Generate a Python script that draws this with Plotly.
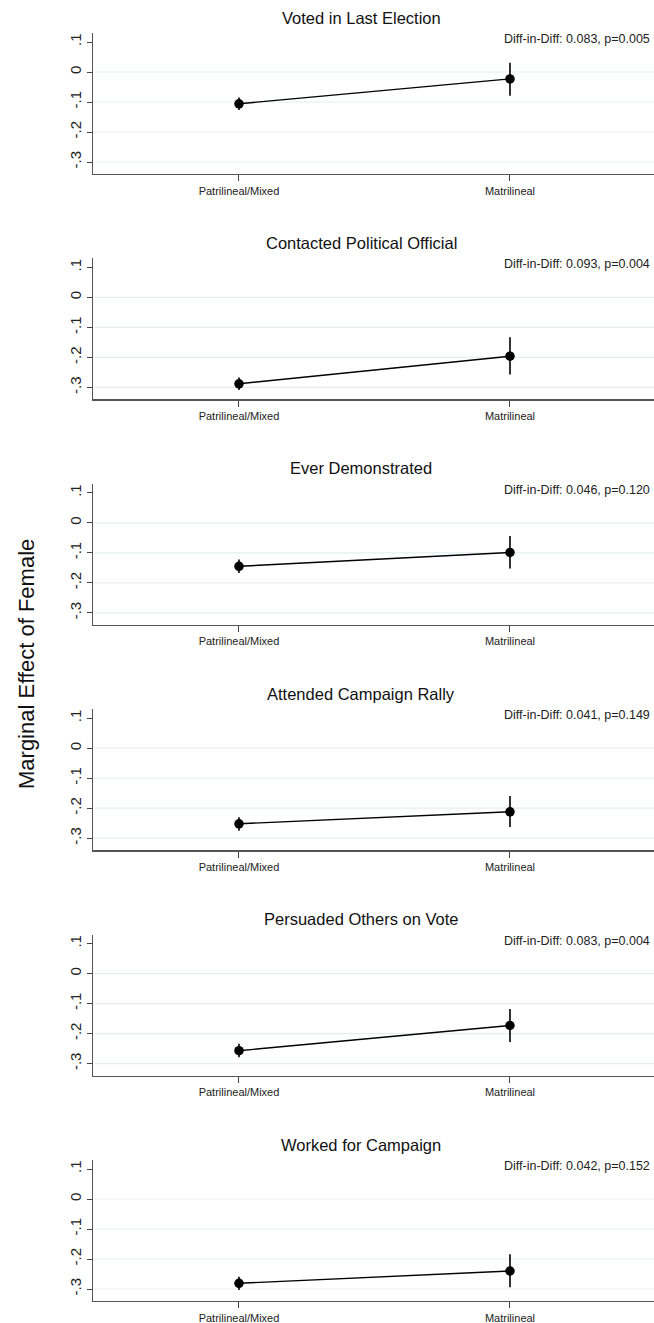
import plotly.graph_objects as go

# ---- data ----
outcomes = ["Voted in Last Election", "Contacted Political Official", "Ever Demonstrated",
            "Attended Campaign Rally", "Persuaded Others on Vote", "Worked for Campaign"]
groups = ["Patrilineal/Mixed", "Matrilineal"]
patri_est = [-0.106, -0.288, -0.145, -0.252, -0.257, -0.281]
patri_lo = [-0.127, -0.309, -0.167, -0.275, -0.279, -0.303]
patri_hi = [-0.085, -0.267, -0.122, -0.230, -0.234, -0.259]
matri_est = [-0.023, -0.196, -0.099, -0.212, -0.173, -0.240]
matri_lo = [-0.079, -0.257, -0.152, -0.263, -0.228, -0.294]
matri_hi = [0.031, -0.133, -0.044, -0.159, -0.118, -0.184]
did_text = ["Diff-in-Diff: 0.083, p=0.005", "Diff-in-Diff: 0.093, p=0.004",
            "Diff-in-Diff: 0.046, p=0.120", "Diff-in-Diff: 0.041, p=0.149",
            "Diff-in-Diff: 0.083, p=0.004", "Diff-in-Diff: 0.042, p=0.152"]
ytick_vals = [0.1, 0.0, -0.1, -0.2, -0.3]
ytick_text = [".1", "0", "-.1", "-.2", "-.3"]
grid_vals = [0.0, -0.1, -0.2, -0.3]

W, H = 654, 1323
FONT = "Liberation Sans, Arial, sans-serif"
step = 225.4
ax_top0, ax_bot0 = 33, 174
x_left = 93

fig = go.Figure()
shapes = []
annotations = []

def py(p):
    return 1 - p / H

for i in range(6):
    n = "" if i == 0 else str(i + 1)
    xa, ya = "x" + n, "y" + n
    top = ax_top0 + step * i
    bot = ax_bot0 + step * i
    est = [patri_est[i], matri_est[i]]
    lo = [patri_lo[i], matri_lo[i]]
    hi = [patri_hi[i], matri_hi[i]]
    fig.add_trace(go.Scatter(
        x=[0, 1], y=est, xaxis=xa, yaxis=ya, mode="lines+markers",
        line=dict(color="black", width=1.4),
        marker=dict(color="black", size=9.5),
        error_y=dict(type="data", symmetric=False,
                     array=[h - e for h, e in zip(hi, est)],
                     arrayminus=[e - l for e, l in zip(est, lo)],
                     color="black", thickness=1.6, width=0),
        showlegend=False, hoverinfo="skip"))
    fig.layout["xaxis" + n] = dict(
        domain=[x_left / W, 1.0], anchor=ya, range=[-0.5387, 1.5314],
        tickvals=[0, 1], ticktext=groups, ticks="outside", ticklen=6,
        tickcolor="#444", showline=True, linecolor="#555", linewidth=1.3,
        showgrid=False, zeroline=False,
        tickfont=dict(family=FONT, size=11, color="#222"))
    fig.layout["yaxis" + n] = dict(
        domain=[py(bot), py(top)], anchor=xa, range=[-0.34, 0.13],
        tickvals=ytick_vals, ticktext=ytick_text, tickangle=-90,
        ticks="outside", ticklen=5, tickcolor="#444", showline=True,
        linecolor="#555", linewidth=1.3, showgrid=False, zeroline=False,
        tickfont=dict(family=FONT, size=15, color="#222"))
    for g in grid_vals:
        shapes.append(dict(type="line", xref=xa + " domain", yref=ya,
                           x0=0, x1=1, y0=g, y1=g, layer="below",
                           line=dict(color="#e6eff0", width=1.2)))
    annotations.append(dict(text=outcomes[i], x=361 / W, y=py(17.5 + step * i),
                            xref="paper", yref="paper", showarrow=False,
                            xanchor="center", yanchor="middle",
                            font=dict(family=FONT, size=16.5, color="#111")))
    annotations.append(dict(text=did_text[i], x=652 / W, y=py(39 + step * i),
                            xref="paper", yref="paper", showarrow=False,
                            xanchor="right", yanchor="middle",
                            font=dict(family=FONT, size=12.5, color="#222")))

annotations.append(dict(text="Marginal Effect of Female", x=26 / W, y=py(664),
                        xref="paper", yref="paper", showarrow=False, textangle=-90,
                        xanchor="center", yanchor="middle",
                        font=dict(family=FONT, size=22, color="#111")))

fig.update_layout(width=W, height=H, margin=dict(l=0, r=0, t=0, b=0),
                  plot_bgcolor="white", paper_bgcolor="white",
                  shapes=shapes, annotations=annotations)
fig.write_html("out.html", config={"displayModeBar": False, "staticPlot": True},
               post_script="document.body.style.margin='0';"
                           "document.body.style.overflow='hidden';")
